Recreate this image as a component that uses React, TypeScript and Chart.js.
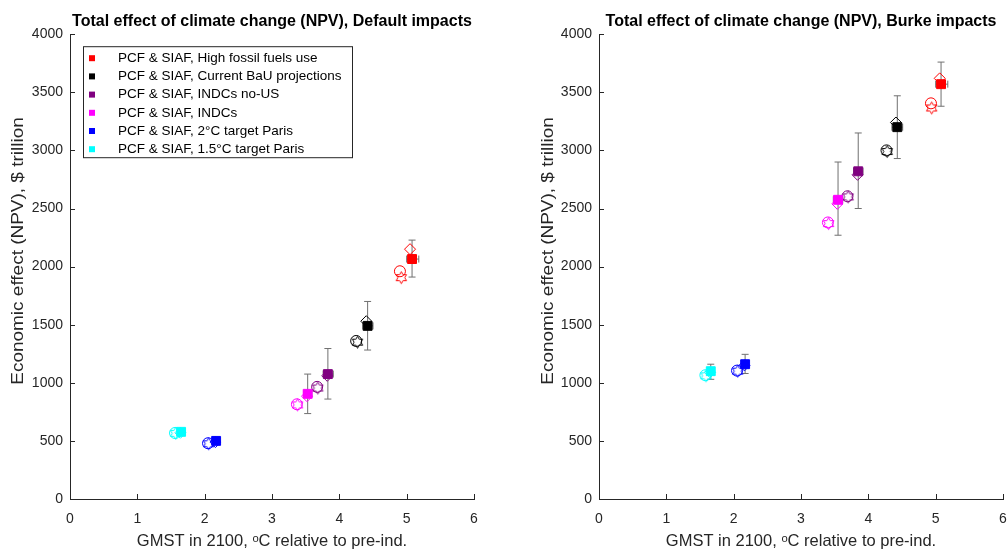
import React, { useEffect, useRef } from 'react';
import { Chart, registerables } from 'chart.js';
Chart.register(...registerables);

const FONT = '"Liberation Sans", Arial, Helvetica, sans-serif';
const AXIS = '#262626';
const ERR = '#707070';

const scenarioLabels = [
  'PCF & SIAF, High fossil fuels use',
  'PCF & SIAF, Current BaU projections',
  'PCF & SIAF, INDCs no-US',
  'PCF & SIAF, INDCs',
  'PCF & SIAF, 2°C target Paris',
  'PCF & SIAF, 1.5°C target Paris',
];
const scenarioColors = ['#ff0000', '#000000', '#800080', '#ff00ff', '#0000ff', '#00ffff'];

const xTicks = [0, 1, 2, 3, 4, 5, 6];
const yTicks = [0, 500, 1000, 1500, 2000, 2500, 3000, 3500, 4000];
const xAxisTitle = 'GMST in 2100, ᵒC relative to pre-ind.';
const yAxisTitle = 'Economic effect (NPV), $ trillion';

// Default impacts panel
const defSqX = [5.08, 4.42, 3.83, 3.53, 2.17, 1.65];
const defSqY = [2065, 1490, 1075, 905, 500, 578];
const defXLo = [5.0, 4.35, 3.76, 3.47, 2.13, 1.61];
const defXHi = [5.18, 4.5, 3.91, 3.59, 2.21, 1.69];
const defYLo = [1910, 1282, 860, 735, 470, 550];
const defYHi = [2228, 1700, 1295, 1075, 530, 605];
const defDiaX = [5.05, 4.4, 3.82, 3.52, 2.16, 1.64];
const defDiaY = [2150, 1530, 1060, 885, 490, 570];
const defCirX = [4.9, 4.25, 3.67, 3.37, 2.05, 1.56];
const defCirY = [1960, 1360, 965, 815, 480, 568];
const defHexX = [4.92, 4.27, 3.68, 3.38, 2.06, 1.57];
const defHexY = [1905, 1350, 955, 810, 475, 565];

// Burke impacts panel
const brkSqX = [5.08, 4.43, 3.85, 3.55, 2.17, 1.66];
const brkSqY = [3570, 3200, 2820, 2575, 1160, 1100];
const brkXLo = [5.0, 4.35, 3.78, 3.48, 2.13, 1.62];
const brkXHi = [5.18, 4.51, 3.92, 3.62, 2.21, 1.7];
const brkYLo = [3380, 2930, 2500, 2270, 1080, 1030];
const brkYHi = [3760, 3470, 3150, 2900, 1245, 1160];
const brkDiaX = [5.06, 4.41, 3.84, 3.54, 2.16, 1.65];
const brkDiaY = [3620, 3240, 2790, 2540, 1150, 1090];
const brkCirX = [4.93, 4.27, 3.69, 3.4, 2.05, 1.58];
const brkCirY = [3405, 3000, 2605, 2380, 1105, 1065];
const brkHexX = [4.94, 4.28, 3.7, 3.41, 2.06, 1.59];
const brkHexY = [3365, 2990, 2600, 2370, 1100, 1060];

type PanelData = {
  sqX: number[]; sqY: number[]; xLo: number[]; xHi: number[]; yLo: number[]; yHi: number[];
  diaX: number[]; diaY: number[]; cirX: number[]; cirY: number[]; hexX: number[]; hexY: number[];
};

const defaultPanel: PanelData = {
  sqX: defSqX, sqY: defSqY, xLo: defXLo, xHi: defXHi, yLo: defYLo, yHi: defYHi,
  diaX: defDiaX, diaY: defDiaY, cirX: defCirX, cirY: defCirY, hexX: defHexX, hexY: defHexY,
};
const burkePanel: PanelData = {
  sqX: brkSqX, sqY: brkSqY, xLo: brkXLo, xHi: brkXHi, yLo: brkYLo, yHi: brkYHi,
  diaX: brkDiaX, diaY: brkDiaY, cirX: brkCirX, cirY: brkCirY, hexX: brkHexX, hexY: brkHexY,
};

function hexagram(color: string): HTMLCanvasElement {
  const c = document.createElement('canvas');
  const s = 15;
  c.width = s; c.height = s;
  const ctx = c.getContext('2d')!;
  ctx.strokeStyle = color;
  ctx.lineWidth = 1;
  ctx.beginPath();
  for (let k = 0; k < 12; k++) {
    const r = k % 2 === 0 ? 6 : 3.4;
    const a = -Math.PI / 2 + (k * Math.PI) / 6;
    const x = s / 2 + r * Math.cos(a);
    const y = s / 2 + r * Math.sin(a);
    if (k === 0) ctx.moveTo(x, y); else ctx.lineTo(x, y);
  }
  ctx.closePath();
  ctx.stroke();
  return c;
}

function buildDatasets(p: PanelData) {
  const ds: any[] = [];
  for (let i = 0; i < p.sqX.length; i++) {
    ds.push({
      data: [{ x: p.sqX[i], y: p.yLo[i] }, { x: p.sqX[i], y: p.yHi[i] }],
      showLine: true, borderColor: ERR, borderWidth: 1,
      pointStyle: 'line', pointRadius: 3.5, pointBorderColor: ERR, pointBorderWidth: 1,
      order: 3,
    });
    ds.push({
      data: [{ x: p.xLo[i], y: p.sqY[i] }, { x: p.xHi[i], y: p.sqY[i] }],
      showLine: true, borderColor: ERR, borderWidth: 1,
      pointStyle: 'line', pointRotation: 90, pointRadius: 3.5, pointBorderColor: ERR, pointBorderWidth: 1,
      order: 3,
    });
  }
  ds.push({
    data: p.hexX.map((x, i) => ({ x, y: p.hexY[i] })),
    pointStyle: scenarioColors.map((c) => hexagram(c)),
    order: 2,
  });
  ds.push({
    data: p.cirX.map((x, i) => ({ x, y: p.cirY[i] })),
    pointStyle: 'circle', pointRadius: 5.5, pointBorderWidth: 1,
    pointBorderColor: scenarioColors, pointBackgroundColor: 'rgba(0,0,0,0)',
    order: 2,
  });
  ds.push({
    data: p.diaX.map((x, i) => ({ x, y: p.diaY[i] })),
    pointStyle: 'rectRot', pointRadius: 5.5, pointBorderWidth: 1,
    pointBorderColor: scenarioColors, pointBackgroundColor: 'rgba(0,0,0,0)',
    order: 2,
  });
  ds.push({
    data: p.sqX.map((x, i) => ({ x, y: p.sqY[i] })),
    pointStyle: 'rect', pointRadius: 6.3, pointBorderWidth: 1,
    pointBorderColor: scenarioColors, pointBackgroundColor: scenarioColors,
    order: 1,
  });
  return ds;
}

const tickPlugin = {
  id: 'inTicks',
  afterDraw(chart: any) {
    const { ctx, chartArea, scales } = chart;
    ctx.save();
    ctx.strokeStyle = AXIS;
    ctx.lineWidth = 1;
    ctx.beginPath();
    for (const v of xTicks) {
      const px = Math.round(scales.x.getPixelForValue(v)) + 0.5;
      ctx.moveTo(px, chartArea.bottom);
      ctx.lineTo(px, chartArea.bottom - 5);
    }
    for (const v of yTicks) {
      const py = Math.round(scales.y.getPixelForValue(v)) + 0.5;
      ctx.moveTo(chartArea.left, py);
      ctx.lineTo(chartArea.left + 5, py);
    }
    ctx.stroke();
    ctx.restore();
  },
};

const yTitlePlugin = {
  id: 'yTitle',
  afterDraw(chart: any, _args: any, opts: any) {
    const { ctx } = chart;
    ctx.save();
    ctx.translate(opts.x, opts.y);
    ctx.rotate(-Math.PI / 2);
    ctx.scale(1.15, 1);
    ctx.font = `16.5px ${FONT}`;
    ctx.fillStyle = AXIS;
    ctx.textAlign = 'center';
    ctx.textBaseline = 'middle';
    ctx.fillText(yAxisTitle, 0, 0);
    ctx.restore();
  },
};

const legendPlugin = {
  id: 'boxLegend',
  afterDraw(chart: any, _args: any, opts: any) {
    if (!opts || !opts.show) return;
    const { ctx, chartArea } = chart;
    const bx = chartArea.left + 13;
    const by = chartArea.top + 12;
    const bw = 269;
    const bh = 111;
    ctx.save();
    ctx.fillStyle = '#ffffff';
    ctx.fillRect(bx, by, bw, bh);
    ctx.strokeStyle = AXIS;
    ctx.lineWidth = 1;
    ctx.strokeRect(bx + 0.5, by + 0.5, bw, bh);
    ctx.font = `13.5px ${FONT}`;
    ctx.textBaseline = 'middle';
    ctx.textAlign = 'left';
    scenarioLabels.forEach((lab, i) => {
      const cy = by + 12 + i * 18.2;
      ctx.fillStyle = scenarioColors[i];
      ctx.fillRect(bx + 6, cy - 3, 6, 6);
      ctx.fillStyle = '#000000';
      ctx.fillText(lab, bx + 35, cy);
    });
    ctx.restore();
  },
};

function Panel(props: {
  title: string; data: PanelData; left: number; width: number; yWidth: number;
  yTitleX: number; padRight: number; legend: boolean;
}) {
  const ref = useRef<HTMLCanvasElement>(null);
  useEffect(() => {
    const chart = new Chart(ref.current!, {
      type: 'scatter',
      data: { datasets: buildDatasets(props.data) },
      options: {
        animation: false,
        responsive: false,
        devicePixelRatio: 1,
        layout: { padding: { left: 0, right: props.padRight, top: 0, bottom: 0 } },
        plugins: {
          legend: { display: false },
          tooltip: { enabled: false },
          title: {
            display: true,
            text: props.title,
            fullSize: false,
            color: '#000000',
            font: { family: FONT, size: 16, weight: 'bold' },
            padding: { top: 12, bottom: 3 },
          },
          boxLegend: { show: props.legend },
          yTitle: { x: props.yTitleX, y: 251 },
        } as any,
        scales: {
          x: {
            type: 'linear', min: 0, max: 6,
            afterBuildTicks: (s: any) => { s.ticks = xTicks.map((v) => ({ value: v })); },
            ticks: { color: AXIS, padding: 12, font: { family: FONT, size: 14 }, callback: (v: any) => String(v) },
            grid: { display: false, drawTicks: false },
            border: { display: true, color: AXIS, width: 1 },
            title: {
              display: true, text: xAxisTitle, color: AXIS,
              font: { family: FONT, size: 16.5, lineHeight: 1.0 }, padding: { top: 0, bottom: 0 },
            },
            afterFit: (s: any) => { s.height = 51; },
          },
          y: {
            type: 'linear', min: 0, max: 4000,
            afterBuildTicks: (s: any) => { s.ticks = yTicks.map((v) => ({ value: v })); },
            ticks: { color: AXIS, padding: 7, font: { family: FONT, size: 14 }, callback: (v: any) => String(v) },
            grid: { display: false, drawTicks: false },
            border: { display: true, color: AXIS, width: 1 },
            title: { display: false },
            afterFit: (s: any) => { s.width = props.yWidth; },
          },
        },
      } as any,
      plugins: [tickPlugin, legendPlugin, yTitlePlugin],
    });
    return () => chart.destroy();
  }, []);
  return (
    <canvas
      ref={ref}
      width={props.width}
      height={550}
      style={{ position: 'absolute', left: props.left, top: 0, width: props.width, height: 550, display: 'block' }}
    />
  );
}

export default function App() {
  return (
    <div style={{ position: 'fixed', left: 0, top: 0, width: 1008, height: 550, overflow: 'hidden', background: '#ffffff' }}>
      <Panel title="Total effect of climate change (NPV), Default impacts" data={defaultPanel} left={0} width={500} yWidth={70} yTitleX={18} padRight={26} legend={true} />
      <Panel title="Total effect of climate change (NPV), Burke impacts" data={burkePanel} left={508} width={520} yWidth={91} yTitleX={40} padRight={25} legend={false} />
    </div>
  );
}
